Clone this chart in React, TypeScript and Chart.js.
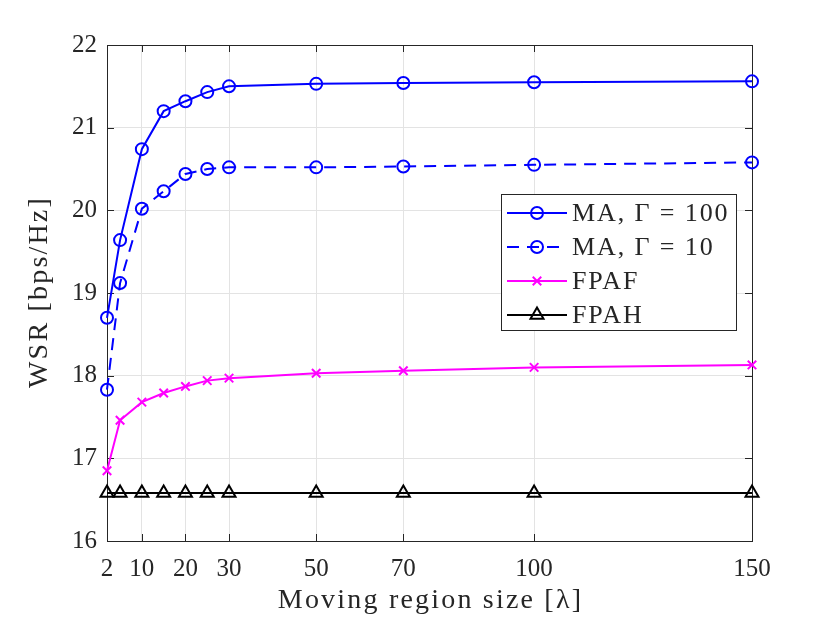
import React, { useEffect, useRef } from "react";
import { Chart, registerables } from "chart.js";
import { drawPoint } from "chart.js/helpers";

Chart.register(...registerables);

// moving region size in wavelengths
const regionSizes = [2, 5, 10, 15, 20, 25, 30, 50, 70, 100, 150];
const xTicks = [2, 10, 20, 30, 50, 70, 100, 150];

// weighted sum rate [bps/Hz]
const maGamma100 = [18.7, 19.64, 20.74, 21.2, 21.32, 21.43, 21.5, 21.53, 21.54, 21.55, 21.56];
const maGamma10 = [17.83, 19.12, 20.02, 20.23, 20.44, 20.5, 20.52, 20.52, 20.53, 20.55, 20.58];
const fpaf = [16.85, 17.46, 17.68, 17.79, 17.87, 17.94, 17.97, 18.03, 18.06, 18.1, 18.13];
const fpah = [16.58, 16.58, 16.58, 16.58, 16.58, 16.58, 16.58, 16.58, 16.58, 16.58, 16.58];

const seriesNames = ["MA, Γ = 100", "MA, Γ = 10", "FPAF", "FPAH"];
const xTitle = "Moving region size [λ]";
const yTitle = "WSR [bps/Hz]";

const FONT = "'Liberation Serif', 'Times New Roman', serif";
const AXIS = "#262626";

// box + inward ticks on all four sides, like matlab
const framePlugin = {
  id: "frame",
  beforeDatasetsDraw(chart: any) {
    const { ctx, chartArea: a, scales } = chart;
    ctx.save();
    ctx.strokeStyle = AXIS;
    ctx.lineWidth = 1;
    ctx.strokeRect(a.left + 0.5, a.top + 0.5, a.right - a.left, a.bottom - a.top);
    const len = 7;
    ctx.beginPath();
    scales.x.ticks.forEach((t: any) => {
      const px = Math.round(scales.x.getPixelForValue(t.value)) + 0.5;
      ctx.moveTo(px, a.bottom);
      ctx.lineTo(px, a.bottom - len);
      ctx.moveTo(px, a.top);
      ctx.lineTo(px, a.top + len);
    });
    scales.y.ticks.forEach((t: any) => {
      const py = Math.round(scales.y.getPixelForValue(t.value)) + 0.5;
      ctx.moveTo(a.left, py);
      ctx.lineTo(a.left + len, py);
      ctx.moveTo(a.right, py);
      ctx.lineTo(a.right - len, py);
    });
    ctx.stroke();
    ctx.restore();
  },
};

// axis titles drawn by hand so the letter spacing can be widened (latex fonts run wide)
const titlePlugin = {
  id: "axisTitles",
  afterDraw(chart: any) {
    const { ctx, chartArea: a } = chart;
    ctx.save();
    ctx.fillStyle = AXIS;
    ctx.font = `28px ${FONT}`;
    (ctx as any).letterSpacing = "2.2px";
    ctx.textAlign = "center";
    ctx.textBaseline = "middle";
    ctx.fillText(xTitle, (a.left + a.right) / 2 + 1, 601);
    ctx.translate(40, (a.top + a.bottom) / 2);
    ctx.rotate(-Math.PI / 2);
    ctx.fillText(yTitle, 1, 0);
    ctx.restore();
  },
};

const legendPlugin = {
  id: "boxLegend",
  afterDraw(chart: any) {
    const { ctx } = chart;
    const bx = 501, by = 194, bw = 235, bh = 136;
    ctx.save();
    ctx.fillStyle = "#ffffff";
    ctx.fillRect(bx, by, bw, bh);
    ctx.strokeStyle = AXIS;
    ctx.lineWidth = 1;
    ctx.strokeRect(bx + 0.5, by + 0.5, bw, bh);
    chart.data.datasets.forEach((ds: any, i: number) => {
      const cy = by + 19 + i * 34;
      ctx.strokeStyle = ds.borderColor;
      ctx.lineWidth = 2;
      ctx.setLineDash(ds.borderDash || []);
      ctx.beginPath();
      ctx.moveTo(bx + 6, cy);
      ctx.lineTo(bx + 66, cy);
      ctx.stroke();
      ctx.setLineDash([]);
      ctx.fillStyle = "rgba(0,0,0,0)";
      drawPoint(ctx, { pointStyle: ds.pointStyle, radius: ds.pointRadius, borderWidth: 2, rotation: 0 }, bx + 36, cy);
      ctx.fillStyle = AXIS;
      ctx.font = `26px ${FONT}`;
      (ctx as any).letterSpacing = "1.9px";
      ctx.textBaseline = "middle";
      ctx.textAlign = "left";
      ctx.fillText(ds.label, bx + 71, cy + 1);
      (ctx as any).letterSpacing = "0px";
    });
    ctx.restore();
  },
};

export default function App() {
  const canvasRef = useRef<HTMLCanvasElement | null>(null);
  const chartRef = useRef<Chart | null>(null);

  useEffect(() => {
    if (!canvasRef.current) return;
    if (chartRef.current) chartRef.current.destroy();

    const line = (label: string, data: number[], color: string, extra: any) => ({
      label,
      data: regionSizes.map((x, i) => ({ x, y: data[i] })),
      borderColor: color,
      borderWidth: 2,
      pointBorderColor: color,
      pointBackgroundColor: "rgba(0,0,0,0)",
      pointBorderWidth: 2,
      pointHoverRadius: 0,
      fill: false,
      tension: 0,
      clip: false,
      ...extra,
    });

    chartRef.current = new Chart(canvasRef.current, {
      type: "line",
      data: {
        datasets: [
          line(seriesNames[0], maGamma100, "#0000ff", { pointStyle: "circle", pointRadius: 6 }),
          line(seriesNames[1], maGamma10, "#0000ff", { pointStyle: "circle", pointRadius: 6, borderDash: [12, 8] }),
          line(seriesNames[2], fpaf, "#ff00ff", { pointStyle: "crossRot", pointRadius: 6 }),
          line(seriesNames[3], fpah, "#000000", { pointStyle: "triangle", pointRadius: 7.5 }),
        ],
      },
      options: {
        responsive: true,
        maintainAspectRatio: false,
        animation: false,
        events: [],
        layout: { padding: { top: 45, right: 78, left: 0, bottom: 0 } },
        plugins: {
          legend: { display: false },
          tooltip: { enabled: false },
        },
        scales: {
          x: {
            type: "linear",
            min: 2,
            max: 150,
            afterBuildTicks: (scale: any) => {
              scale.ticks = xTicks.map((v) => ({ value: v }));
            },
            afterFit: (scale: any) => {
              scale.height = 82;
            },
            grid: { color: "#e3e3e3", drawTicks: false },
            border: { color: AXIS, width: 1 },
            ticks: {
              padding: 13,
              color: AXIS,
              autoSkip: false,
              maxRotation: 0,
              font: { family: FONT, size: 25 },
            },
          },
          y: {
            min: 16,
            max: 22,
            afterFit: (scale: any) => {
              scale.width = 107;
            },
            grid: { color: "#e3e3e3", drawTicks: false },
            border: { color: AXIS, width: 1 },
            ticks: {
              stepSize: 1,
              padding: 10,
              color: AXIS,
              font: { family: FONT, size: 25 },
            },
          },
        },
      },
      plugins: [framePlugin, titlePlugin, legendPlugin],
    });

    return () => {
      if (chartRef.current) {
        chartRef.current.destroy();
        chartRef.current = null;
      }
    };
  }, []);

  return (
    <div style={{ position: "fixed", left: 0, top: 0, width: 830, height: 623, background: "#fff" }}>
      <canvas ref={canvasRef}></canvas>
    </div>
  );
}
